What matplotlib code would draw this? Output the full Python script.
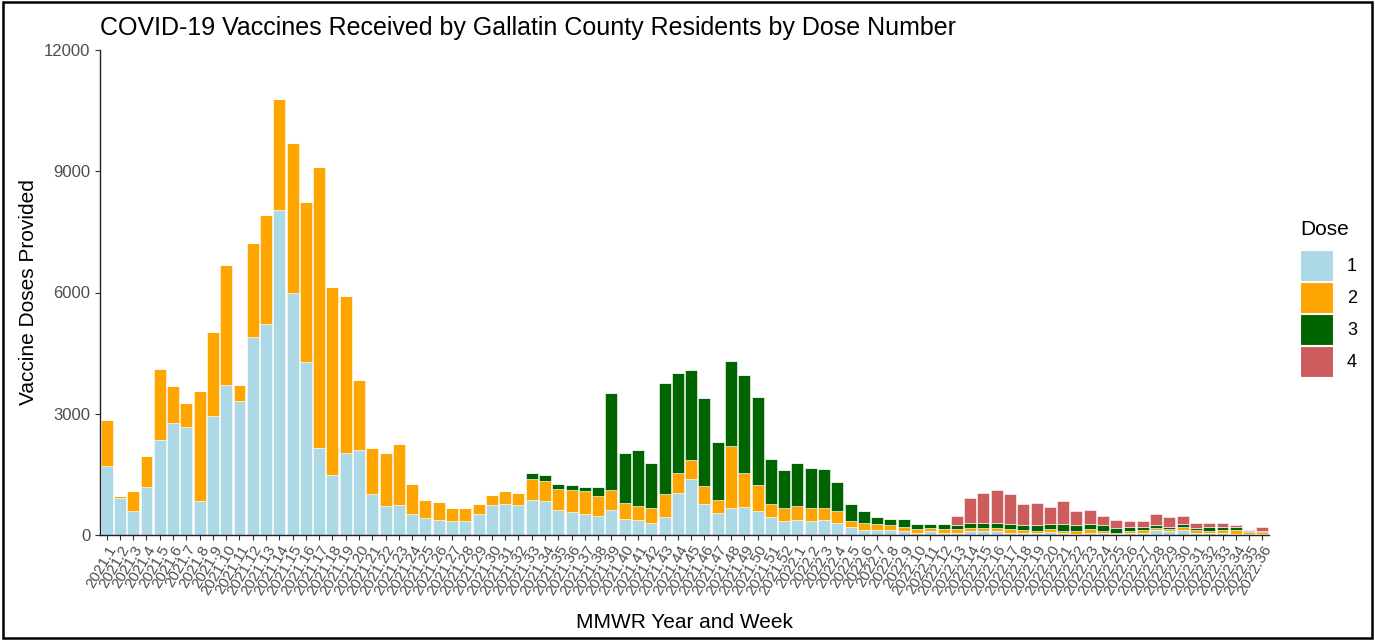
import numpy as np
import matplotlib
matplotlib.use("Agg")
import matplotlib.pyplot as plt
from matplotlib.patches import Patch, Rectangle

plt.rcParams["font.family"] = ["Liberation Sans", "DejaVu Sans"]

# MMWR year.week categories, in calendar order
weeks = [f"2021.{w}" for w in range(1, 53)] + [f"2022.{w}" for w in range(1, 37)]

# doses per week
dose1 = [1712, 922, 598, 1188, 2352, 2767, 2668, 839, 2942, 3715, 3324, 4903, 5219, 8052,
         5992, 4271, 2144, 1479, 2036, 2111, 1022, 706, 740, 524, 424, 382, 349, 349, 524,
         731, 773, 731, 873, 839, 623, 565, 524, 482, 615, 407, 374, 307, 449, 1039, 1396,
         756, 548, 656, 690, 582, 449, 341, 374, 341, 374, 307, 208, 133, 133, 125, 100, 58,
         91, 58, 58, 91, 91, 108, 58, 58, 58, 75, 58, 25, 58, 58, 17, 58, 58, 125, 91, 125,
         58, 58, 58, 33, 25, 25]
dose2 = [1122, 34, 491, 773, 1745, 914, 598, 2734, 2069, 2975, 399, 2310, 2700, 2734,
         3706, 3956, 6955, 4654, 3881, 1712, 1122, 1330, 1504, 747, 449, 424, 316, 316, 249,
         250, 307, 316, 523, 491, 524, 557, 565, 490, 490, 382, 349, 349, 556, 490, 449,
         457, 316, 1538, 839, 665, 307, 315, 349, 315, 282, 283, 133, 174, 141, 116, 108, 83,
         84, 83, 83, 84, 84, 67, 83, 67, 33, 66, 42, 66, 83, 33, 41, 33, 67, 50, 50, 83,
         67, 33, 67, 92, 50, 58]
dose3 = [0] * 32 + [150, 149, 124, 108, 99, 216, 2418, 1230, 1371, 1122, 2768, 2485, 2235,
         2169, 1438, 2102, 2418, 2177, 1130, 948, 1055, 1014, 981, 731, 415, 275, 175, 166,
         199, 125, 91, 125, 100, 132, 132, 132, 133, 116, 150, 133, 174, 150, 133, 150, 117,
         117, 83, 66, 67, 66, 50, 117, 83, 83, 33, 17]
dose4 = [0] * 64 + [241, 599, 732, 807, 731, 524, 557, 424, 557, 349, 349, 241, 199, 133,
         133, 274, 241, 208, 132, 99, 99, 33, 25, 108]

dose_labels = ["1", "2", "3", "4"]
dose_colors = ["#ADD8E6", "#FFA500", "#006400", "#CD5C5C"]

W, H = 1375, 640
fig = plt.figure(figsize=(W / 100, H / 100), dpi=100)
ax = fig.add_axes([100 / W, 1 - 535 / H, 1169 / W, 485 / H])

x = np.arange(len(weeks))
bottom = np.zeros(len(weeks))
for vals, col in zip([dose1, dose2, dose3, dose4], dose_colors):
    vals = np.array(vals, dtype=float)
    ax.bar(x, vals, bottom=bottom, width=0.9, color=col, edgecolor="white",
           linewidth=0.4)
    bottom += vals

ax.set_xlim(-0.5, len(weeks) - 0.5)
ax.set_ylim(0, 12000)
ax.set_yticks([0, 3000, 6000, 9000, 12000])
ax.set_xticks(x)
ax.set_xticklabels(weeks, rotation=60, ha="right", va="top", rotation_mode="anchor")
ax.tick_params(axis="both", colors="#333333", labelcolor="#4D4D4D", labelsize=12,
               length=3.5, width=0.8)
ax.tick_params(axis="x", labelsize=11, pad=2)
for s in ["top", "right"]:
    ax.spines[s].set_visible(False)
for s in ["left", "bottom"]:
    ax.spines[s].set_linewidth(1.0)
    ax.spines[s].set_color("#222222")

fig.text(100 / W, 1 - 28 / H,
         "COVID-19 Vaccines Received by Gallatin County Residents by Dose Number",
         fontsize=18, ha="left", va="center", color="black")
fig.text(28 / W, 1 - 292 / H, "Vaccine Doses Provided", rotation=90,
         fontsize=15, ha="center", va="center")
fig.text(685 / W, 1 - 622 / H, "MMWR Year and Week", fontsize=15,
         ha="center", va="center")

handles = [Patch(facecolor=c, edgecolor="white", linewidth=0.8) for c in dose_colors]
leg = ax.legend(handles, dose_labels, title="Dose", loc="upper left",
                bbox_to_anchor=(1300 / W, 1 - 220 / H), bbox_transform=fig.transFigure,
                frameon=False, fontsize=13, title_fontsize=15, handlelength=1.85,
                handleheight=2.26, labelspacing=0.05, handletextpad=0.75, borderpad=0,
                borderaxespad=0, alignment="left")
leg._legend_box.sep = 8

# outer frame of the screenshot
fig.patches.append(Rectangle((0.002, 0.003), 0.996, 0.994, transform=fig.transFigure,
                             fill=False, edgecolor="black", linewidth=1.8))

fig.savefig("out.png", dpi=100)
plt.close(fig)
